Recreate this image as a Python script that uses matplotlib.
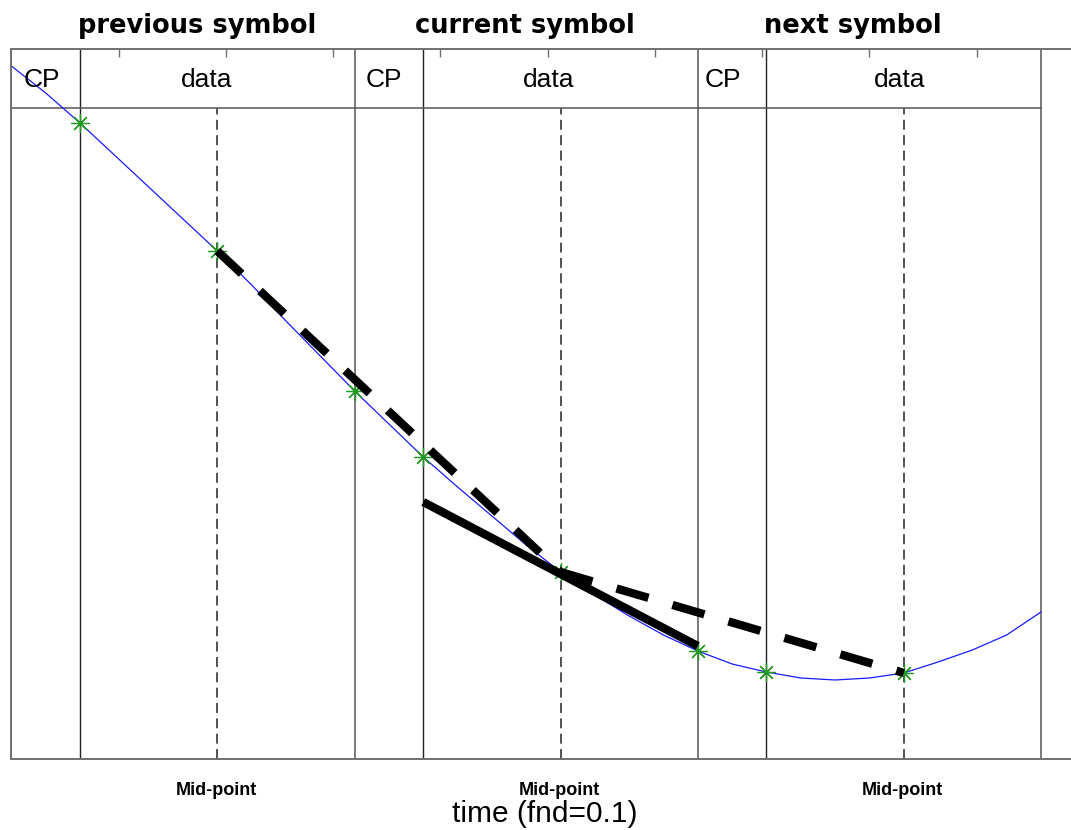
import numpy as np
import matplotlib
matplotlib.use("Agg")
import matplotlib.pyplot as plt

# Sample index (time) of the curve and its value
time_idx = list(range(0, 241, 8))
curve = [6.93, 6.66, 6.36, 6.04, 5.72, 5.40, 5.08, 4.74, 4.38, 4.03, 3.68,
         3.35, 3.02, 2.72, 2.43, 2.14, 1.87, 1.64, 1.43, 1.24, 1.08, 0.95,
         0.87, 0.81, 0.79, 0.81, 0.86, 0.97, 1.09, 1.24, 1.47]

# Symbol structure (samples): CP = 16, data = 64
symbol_bounds = [80, 160, 240]
cp_bounds = [16, 96, 176]
mid_points = [48, 128, 208]
marker_x = [16, 48, 80, 96, 128, 160, 176, 208]

# Tangent through the current symbol's mid-point
tangent_x = [96, 160]
tangent_y = [2.57, 1.13]

symbol_titles = ["previous symbol", "current symbol", "next symbol"]
cell_labels = ["CP", "data", "CP", "data", "CP", "data"]
mid_label = "Mid-point"
xlabel = "time (fnd=0.1)"

W, H = 1071, 830
fig = plt.figure(figsize=(W / 100, H / 100), dpi=100)
ppx = 4.29           # pixels per sample
x0_px = 11.4
ax = fig.add_axes([x0_px / W, 71 / H, 250 * ppx / W, 710 / H])
ax.set_xlim(0, 250)
ax.set_ylim(0, 7.10)

for s in ax.spines.values():
    s.set_color("#707070")
    s.set_linewidth(1.4)
ax.set_xticks(np.arange(25, 250, 25))
ax.set_yticks([])
ax.tick_params(axis="x", bottom=False, top=True, direction="in", length=6,
               width=1.0, color="#707070", labelbottom=False, labeltop=False)

# structure lines
for xb in cp_bounds:
    ax.axvline(xb, color="#222222", lw=1.0, zorder=1)
for xb in symbol_bounds:
    ax.axvline(xb, color="#555555", lw=1.1, zorder=1)
for xm in mid_points:
    ax.plot([xm, xm], [0, 6.51], color="#444444", lw=1.3,
            dashes=(5.5, 3.0), zorder=1)
ax.plot([0, 240], [6.51, 6.51], color="#555555", lw=1.1, zorder=1)

# signal curve and sampled points
ax.plot(time_idx, curve, color="#1a1aff", lw=0.9, zorder=2)
lookup = dict(zip(time_idx, curve))
ax.plot(marker_x, [lookup[x] for x in marker_x], linestyle="none",
        marker=(8, 2, 0), markersize=13, markeredgewidth=0.9,
        color="#229922", zorder=3)

# piecewise-linear interpolation between mid-points (thick dashed)
mid_vals = [lookup[x] for x in mid_points]
for i in range(2):
    ax.plot(mid_points[i:i + 2], mid_vals[i:i + 2], color="black", lw=6.0,
            dashes=(4.0, 3.0), dash_capstyle="butt", zorder=4)

# tangent at the current mid-point (thick solid)
ax.plot(tangent_x, tangent_y, color="black", lw=6.0,
        solid_capstyle="butt", zorder=4)

# cell labels
cell_pos = [7.1, 45.4, 86.9, 125.2, 165.9, 207.1]
for xp, lab in zip(cell_pos, cell_labels):
    ax.text(xp, 6.72, lab, ha="center", va="baseline", fontsize=19,
            family="Liberation Sans", color="black")

# symbol titles
title_pos = [43.4, 119.8, 196.1]
for xp, t in zip(title_pos, symbol_titles):
    xf = (x0_px + xp * ppx) / W
    fig.text(xf, 1 - 33 / H, t, ha="center", va="baseline", fontsize=18.5,
             family="DejaVu Sans", fontweight="bold")

# mid-point labels
for xm in mid_points:
    xf = (x0_px + (xm - 0.3) * ppx) / W
    fig.text(xf, 1 - 795 / H, mid_label, ha="center", va="baseline",
             fontsize=13, family="Liberation Sans", fontweight="bold")

fig.text(545 / W, 1 - 822 / H, xlabel, ha="center", va="baseline",
         fontsize=21.5, family="Liberation Sans")

fig.savefig("out.png", dpi=100)
